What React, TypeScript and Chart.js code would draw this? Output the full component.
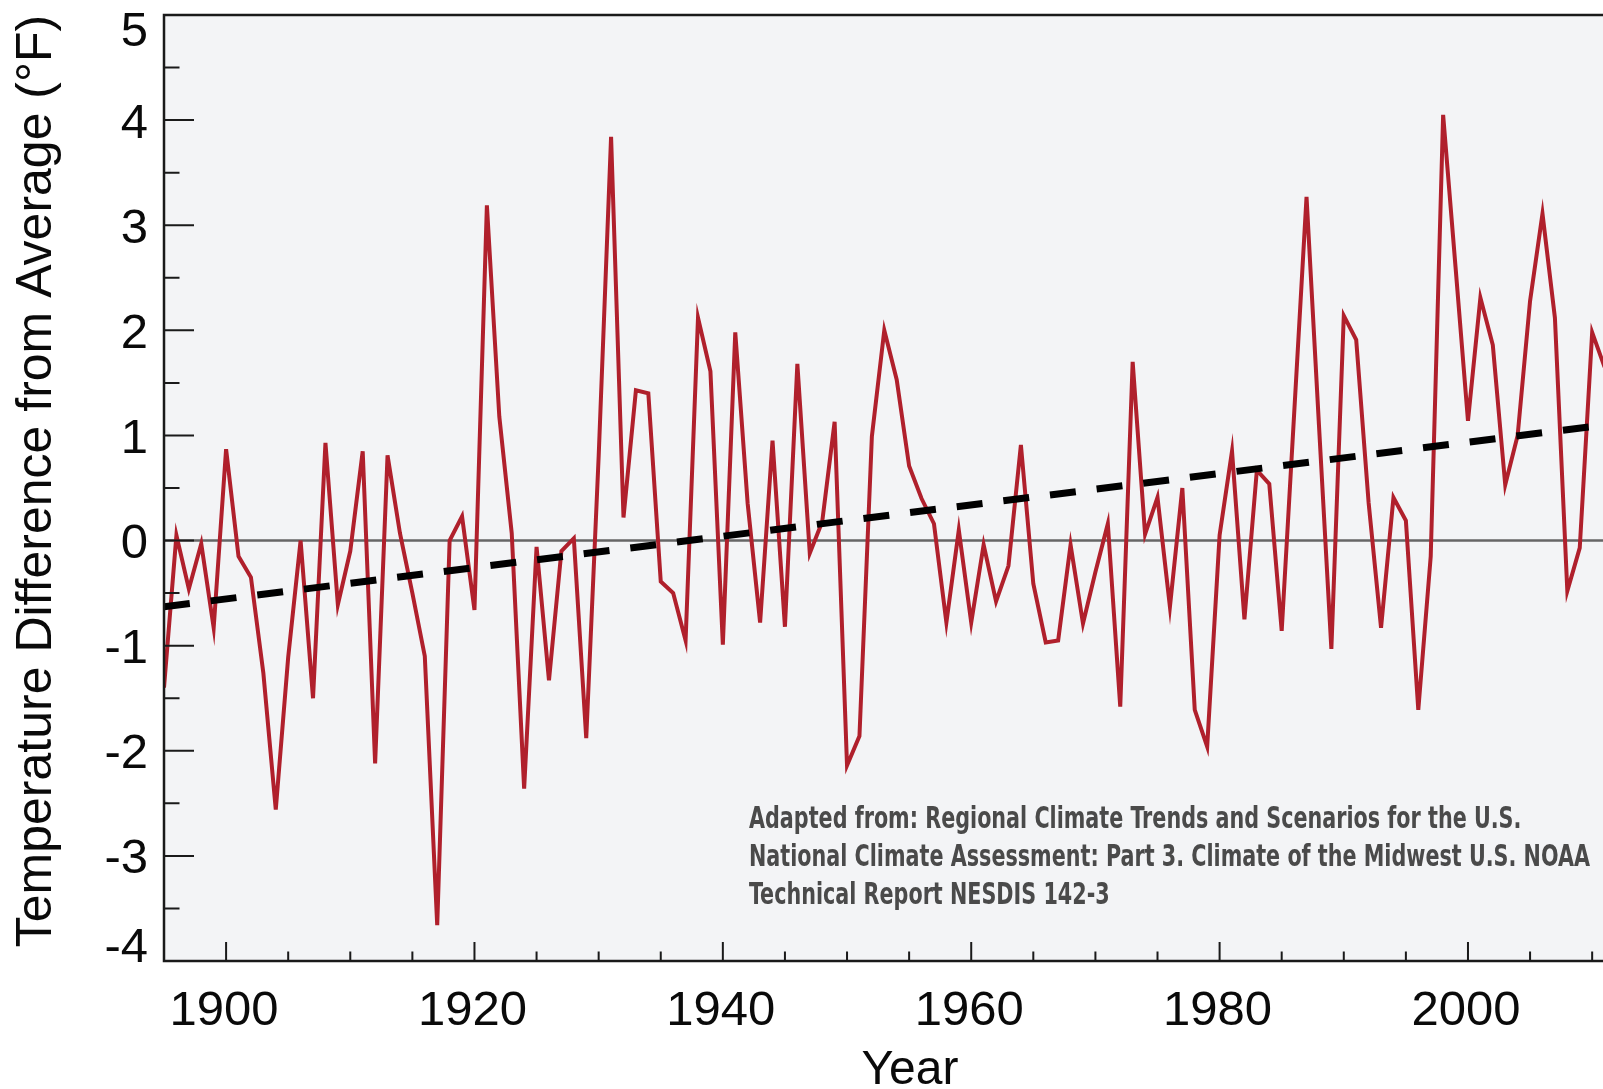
import React, { useEffect, useRef } from "react";
import { Chart, registerables } from "chart.js";

Chart.register(...registerables);

// ---- data ----
const YEARS = [
  1895, 1896, 1897, 1898, 1899, 1900, 1901, 1902, 1903, 1904,
  1905, 1906, 1907, 1908, 1909, 1910, 1911, 1912, 1913, 1914,
  1915, 1916, 1917, 1918, 1919, 1920, 1921, 1922, 1923, 1924,
  1925, 1926, 1927, 1928, 1929, 1930, 1931, 1932, 1933, 1934,
  1935, 1936, 1937, 1938, 1939, 1940, 1941, 1942, 1943, 1944,
  1945, 1946, 1947, 1948, 1949, 1950, 1951, 1952, 1953, 1954,
  1955, 1956, 1957, 1958, 1959, 1960, 1961, 1962, 1963, 1964,
  1965, 1966, 1967, 1968, 1969, 1970, 1971, 1972, 1973, 1974,
  1975, 1976, 1977, 1978, 1979, 1980, 1981, 1982, 1983, 1984,
  1985, 1986, 1987, 1988, 1989, 1990, 1991, 1992, 1993, 1994,
  1995, 1996, 1997, 1998, 1999, 2000, 2001, 2002, 2003, 2004,
  2005, 2006, 2007, 2008, 2009, 2010, 2011,
];

const TEMP_ANOMALY_F = [
  -1.40, 0.05, -0.46, -0.03, -0.83, 0.87, -0.15, -0.35, -1.26, -2.56,
  -1.11, 0.00, -1.50, 0.93, -0.61, -0.10, 0.85, -2.12, 0.81, 0.07,
  -0.50, -1.10, -3.66, 0.00, 0.23, -0.66, 3.19, 1.18, 0.07, -2.36,
  -0.06, -1.33, -0.10, 0.02, -1.88, 0.80, 3.84, 0.22, 1.43, 1.40,
  -0.39, -0.50, -0.95, 2.12, 1.61, -0.99, 1.98, 0.35, -0.78, 0.95,
  -0.82, 1.68, -0.12, 0.18, 1.13, -2.14, -1.86, 0.99, 2.00, 1.53,
  0.71, 0.40, 0.16, -0.78, 0.10, -0.78, -0.04, -0.58, -0.24, 0.91,
  -0.41, -0.97, -0.95, -0.04, -0.79, -0.30, 0.16, -1.58, 1.70, 0.06,
  0.41, -0.63, 0.50, -1.61, -1.96, 0.05, 0.85, -0.75, 0.67, 0.54,
  -0.86, 1.20, 3.27, 1.10, -1.03, 2.14, 1.91, 0.36, -0.83, 0.41,
  0.19, -1.61, -0.15, 4.05, 2.60, 1.14, 2.31, 1.86, 0.53, 1.00,
  2.28, 3.11, 2.12, -0.48, -0.07, 1.98, 1.65,
];

const TREND_YEARS = [1895, 2012];
const TREND_VALUES = [-0.63, 1.115];

const X_MIN = 1895;
const X_MAX = 2012;
const Y_MIN = -4;
const Y_MAX = 5;

const X_LABEL_YEARS = [1900, 1920, 1940, 1960, 1980, 2000];
const X_MINOR_YEARS = [
  1905, 1910, 1915, 1925, 1930, 1935, 1945, 1950, 1955,
  1965, 1970, 1975, 1985, 1990, 1995, 2005, 2010,
];
const Y_TICKS = [5, 4, 3, 2, 1, 0, -1, -2, -3, -4];
const Y_HALF_TICKS = [4.5, 3.5, 2.5, 1.5, 0.5, -0.5, -1.5, -2.5, -3.5];

const X_TITLE = "Year";
const Y_TITLE = "Temperature Difference from Average (°F)";
const NOTE_LINES = [
  "Adapted from: Regional Climate Trends and Scenarios for the U.S.",
  "National Climate Assessment: Part 3. Climate of the Midwest U.S. NOAA",
  "Technical Report NESDIS 142-3",
];

const AXIS_FONT = '"Liberation Sans", Arial, Helvetica, sans-serif';
const NOTE_FONT =
  '"Liberation Sans Narrow", "DejaVu Sans Condensed", "Roboto Condensed", "Liberation Sans", sans-serif';

const decorPlugin = {
  id: "decor",
  beforeDraw(chart: any) {
    const { ctx, chartArea: a } = chart;
    ctx.save();
    ctx.fillStyle = "#ffffff";
    ctx.fillRect(0, 0, chart.width, chart.height);
    ctx.fillStyle = "#f3f4f6";
    ctx.fillRect(a.left, a.top, a.right - a.left, a.bottom - a.top);
    ctx.restore();
  },
  afterDraw(chart: any) {
    const { ctx, chartArea: a } = chart;
    const xs = chart.scales.x;
    const ys = chart.scales.y;
    ctx.save();

    // plot frame
    ctx.strokeStyle = "#1a1a1a";
    ctx.lineWidth = 2.5;
    ctx.strokeRect(a.left, a.top, a.right - a.left, a.bottom - a.top);

    // inner ticks
    ctx.lineWidth = 2;
    ctx.beginPath();
    for (const v of Y_TICKS) {
      const py = ys.getPixelForValue(v);
      ctx.moveTo(a.left, py);
      ctx.lineTo(a.left + 30, py);
    }
    for (const v of Y_HALF_TICKS) {
      const py = ys.getPixelForValue(v);
      ctx.moveTo(a.left, py);
      ctx.lineTo(a.left + 15.5, py);
    }
    for (const yr of X_LABEL_YEARS) {
      const px = xs.getPixelForValue(yr);
      ctx.moveTo(px, a.bottom);
      ctx.lineTo(px, a.bottom - 19);
    }
    for (const yr of X_MINOR_YEARS) {
      const px = xs.getPixelForValue(yr);
      ctx.moveTo(px, a.bottom);
      ctx.lineTo(px, a.bottom - 9.5);
    }
    ctx.stroke();

    // tick labels
    ctx.fillStyle = "#0a0a0a";
    ctx.font = `49px ${AXIS_FONT}`;
    ctx.textBaseline = "alphabetic";
    ctx.textAlign = "right";
    for (const v of Y_TICKS) {
      const py = ys.getPixelForValue(v);
      let base = py + 17.5;
      base = Math.max(base, a.top + 31);
      base = Math.min(base, a.bottom + 1);
      ctx.fillText(String(v), a.left - 16, base);
    }
    ctx.textAlign = "center";
    for (const yr of X_LABEL_YEARS) {
      const px = xs.getPixelForValue(yr);
      ctx.fillText(String(yr), px - 2, a.bottom + 64);
    }

    // axis titles
    ctx.font = `48px ${AXIS_FONT}`;
    ctx.textAlign = "center";
    ctx.fillText(X_TITLE, 910, 1084);

    ctx.save();
    ctx.font = `50px ${AXIS_FONT}`;
    ctx.translate(51, 481);
    ctx.rotate(-Math.PI / 2);
    ctx.textAlign = "center";
    ctx.fillText(Y_TITLE, 0, 0);
    ctx.restore();

    // source note
    ctx.font = `bold 30px ${NOTE_FONT}`;
    ctx.fillStyle = "#4a4a4a";
    ctx.textAlign = "left";
    const w = ctx.measureText(NOTE_LINES[1]).width;
    const sx = w > 0 ? 841 / w : 1;
    const baselines = [828, 866, 904];
    NOTE_LINES.forEach((line, i) => {
      ctx.save();
      ctx.translate(749, baselines[i]);
      ctx.scale(sx, 1);
      ctx.fillText(line, 0, 0);
      ctx.restore();
    });

    ctx.restore();
  },
};

export default function App() {
  const canvasRef = useRef<HTMLCanvasElement | null>(null);

  useEffect(() => {
    const canvas = canvasRef.current;
    if (!canvas) return;

    const series = YEARS.map((yr, i) => ({ x: yr, y: TEMP_ANOMALY_F[i] }));
    const trend = TREND_YEARS.map((yr, i) => ({ x: yr, y: TREND_VALUES[i] }));
    const zero = [
      { x: X_MIN, y: 0 },
      { x: X_MAX, y: 0 },
    ];

    const chart = new Chart(canvas, {
      type: "line",
      data: {
        datasets: [
          {
            label: "Trend",
            data: trend,
            borderColor: "#000000",
            borderWidth: 7,
            borderDash: [26, 21],
            borderCapStyle: "butt",
            pointRadius: 0,
            tension: 0,
            order: 0,
          },
          {
            label: "Temperature difference",
            data: series,
            borderColor: "#b0202c",
            borderWidth: 4,
            borderJoinStyle: "miter",
            pointRadius: 0,
            tension: 0,
            order: 1,
          },
          {
            label: "Zero",
            data: zero,
            borderColor: "#666666",
            borderWidth: 2.5,
            pointRadius: 0,
            tension: 0,
            order: 2,
          },
        ],
      },
      options: {
        animation: false,
        responsive: false,
        events: [],
        layout: { padding: { top: 15, right: 83, left: 0, bottom: 0 } },
        plugins: {
          legend: { display: false },
          tooltip: { enabled: false },
          title: { display: false },
        },
        scales: {
          x: {
            type: "linear",
            min: X_MIN,
            max: X_MAX,
            grid: { display: false, drawTicks: false },
            border: { display: false },
            ticks: { display: false },
            afterFit(scale: any) {
              scale.height = 128;
            },
          },
          y: {
            type: "linear",
            min: Y_MIN,
            max: Y_MAX,
            grid: { display: false, drawTicks: false },
            border: { display: false },
            ticks: { display: false },
            afterFit(scale: any) {
              scale.width = 164;
            },
          },
        },
      },
      plugins: [decorPlugin],
    } as any);

    return () => chart.destroy();
  }, []);

  return (
    <div
      style={{
        position: "fixed",
        left: 0,
        top: 0,
        width: 1603,
        height: 1089,
        overflow: "hidden",
        background: "#ffffff",
      }}
    >
      <canvas
        ref={canvasRef}
        width={1700}
        height={1089}
        style={{ display: "block", width: 1700, height: 1089 }}
      />
    </div>
  );
}
